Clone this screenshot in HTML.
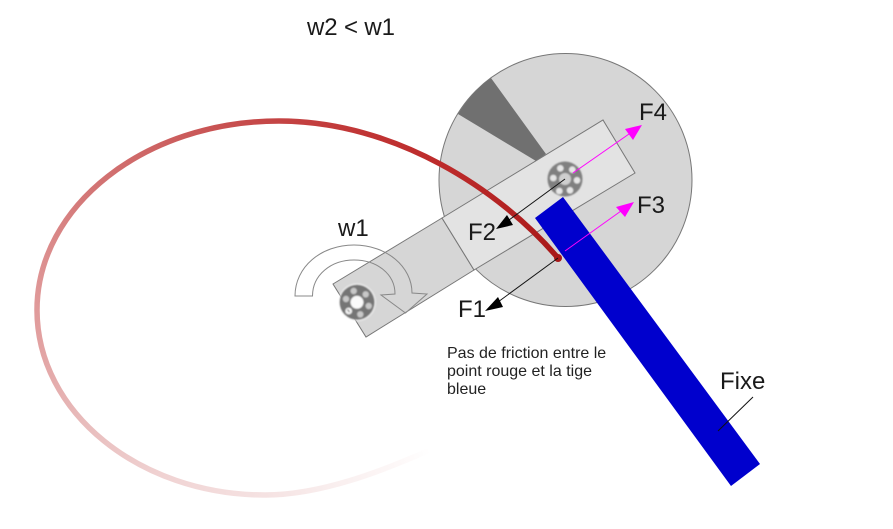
<!DOCTYPE html>
<html>
<head>
<meta charset="utf-8">
<style>
html,body{margin:0;padding:0;background:#fff;width:893px;height:529px;overflow:hidden}
svg{display:block}
text{font-family:"Liberation Sans",sans-serif;fill:#1a1a1a}
.f{font-size:24px}
.s{font-size:16px;fill:#222}
</style>
</head>
<body>
<svg width="893" height="529" viewBox="0 0 893 529" xmlns="http://www.w3.org/2000/svg">
<defs>
<filter id="b" x="-20%" y="-20%" width="140%" height="140%"><feGaussianBlur stdDeviation="0.7"/></filter>
<linearGradient id="g1" gradientUnits="userSpaceOnUse" x1="558" y1="258" x2="279" y2="121">
<stop offset="0" stop-color="#a81818"/><stop offset=".26" stop-color="#b52424"/><stop offset=".477" stop-color="#bd2b2b"/><stop offset=".717" stop-color="#c03434"/><stop offset="1" stop-color="#c44444"/>
</linearGradient>
<linearGradient id="g2" gradientUnits="userSpaceOnUse" x1="279" y1="121" x2="37" y2="310">
<stop offset="0" stop-color="#c44444"/><stop offset=".4" stop-color="#ce6666"/><stop offset=".657" stop-color="#d47878"/><stop offset=".883" stop-color="#dc8f8f"/><stop offset="1" stop-color="#e09a9a"/>
</linearGradient>
<linearGradient id="g3" gradientUnits="userSpaceOnUse" x1="37" y1="310" x2="265" y2="495">
<stop offset="0" stop-color="#e09a9a"/><stop offset=".13" stop-color="#e3a6a6"/><stop offset=".368" stop-color="#e8bcbc"/><stop offset=".68" stop-color="#f0d2d2"/><stop offset="1" stop-color="#f5e2e2"/>
</linearGradient>
<linearGradient id="g4" gradientUnits="userSpaceOnUse" x1="265" y1="495" x2="430" y2="450">
<stop offset="0" stop-color="#f5e2e2"/><stop offset=".38" stop-color="#f9eeee"/><stop offset=".8" stop-color="#fdf8f8"/><stop offset="1" stop-color="#ffffff"/>
</linearGradient>
</defs>

<!-- disc -->
<circle cx="565.500" cy="180" r="126.500" fill="#d6d6d6" stroke="#777" stroke-width="1"/>
<path d="M491 78 A126.5 126.5 0 0 0 458 114 L536 161 L546 154 Z" fill="#707070"/>

<!-- arm -->
<polygon points="333,284 442,218 474,270 366,337" fill="#d6d6d6" stroke="#777" stroke-width="1"/>
<polygon points="442,218 603,120 635,173 474,270" fill="#e3e3e3" stroke="#777" stroke-width="1"/>

<!-- rotation arrow -->
<path d="M295 296 C295 267 321 245 354 245 C387 245 412 267 412 293 L427 294 L405.500 313 L381 295 L395 294 C395 274 377 260 354 260 C331 260 312.500 275 312.500 296 Z" fill="none" stroke="#888" stroke-width="1"/>

<!-- bearings -->
<g filter="url(#b)">
<circle cx="565" cy="179" r="17.500" fill="#808080"/>
<circle cx="565" cy="179" r="6" fill="#cfcfcf"/>
<circle cx="560.300" cy="168.300" r="3.300" fill="#e6e6e6"/>
<circle cx="572.300" cy="169.700" r="3.300" fill="#e6e6e6"/>
<circle cx="577" cy="180.300" r="3.300" fill="#e6e6e6"/>
<circle cx="570" cy="190.300" r="3.300" fill="#e6e6e6"/>
<circle cx="559.300" cy="191" r="3.300" fill="#e6e6e6"/>
<circle cx="553.300" cy="178" r="3.300" fill="#e6e6e6"/>
</g>
<g filter="url(#b)">
<circle cx="357" cy="302.300" r="19" fill="#fff" opacity=".5"/>
<circle cx="357" cy="302.300" r="17.500" fill="#757575"/>
<circle cx="357" cy="302.300" r="6.500" fill="#fafafa"/>
<circle cx="353.700" cy="291" r="3.200" fill="#c8c8c8"/>
<circle cx="365.700" cy="294.300" r="3.200" fill="#c8c8c8"/>
<circle cx="368.700" cy="306" r="3.200" fill="#c8c8c8"/>
<circle cx="360.300" cy="314.300" r="3.200" fill="#c8c8c8"/>
<circle cx="348.700" cy="311" r="3.400" fill="#f4f4f4"/>
<circle cx="346" cy="299" r="3.200" fill="#c8c8c8"/>
<line x1="347.500" y1="309.500" x2="349.500" y2="312" stroke="#333" stroke-width="1"/>
</g>

<!-- fixed blue bar -->
<polygon points="563,197 535,218 731,486 760,464" fill="#0000cd"/>

<!-- trajectory -->
<g fill="none" stroke-width="5.500" stroke-linecap="butt">
<path d="M265 495 C320 495 380 472 430 450" stroke="url(#g4)"/>
<path d="M37 310 C37 412 139 495 265 495" stroke="url(#g3)"/>
<path d="M279 121 C145 121 37 206 37 310" stroke="url(#g2)"/>
<path d="M558 258 C500 190 395 121 279 121" stroke="url(#g1)"/>
</g>
<circle cx="558" cy="258" r="4" fill="#a81818"/>

<!-- force arrows -->
<line x1="558" y1="258" x2="498" y2="302" stroke="#111" stroke-width="1"/>
<polygon points="485,311 498,297 503,307" fill="#000"/>
<line x1="565" y1="179" x2="509" y2="220" stroke="#111" stroke-width="1"/>
<polygon points="496,229 507,215 513,225" fill="#000"/>
<line x1="573" y1="173" x2="629" y2="134" stroke="#f0f" stroke-width="1"/>
<polygon points="642,125 625,129 633,140" fill="#f0f"/>
<line x1="565" y1="251" x2="621" y2="211" stroke="#f0f" stroke-width="1"/>
<polygon points="634,202 616,207 625,217" fill="#f0f"/>
<line x1="753" y1="397" x2="718" y2="431" stroke="#111" stroke-width="1"/>

<!-- labels -->
<text class="f" x="307" y="35" textLength="88">w2 &lt; w1</text>
<text class="f" x="338" y="236">w1</text>
<text class="f" x="639" y="120">F4</text>
<text class="f" x="637" y="213">F3</text>
<text class="f" x="468" y="240">F2</text>
<text class="f" x="458" y="317">F1</text>
<text class="f" x="720" y="389">Fixe</text>
<text class="s" x="447" y="358">Pas de friction entre le</text>
<text class="s" x="447" y="376">point rouge et la tige</text>
<text class="s" x="447" y="394">bleue</text>
</svg>
</body>
</html>
